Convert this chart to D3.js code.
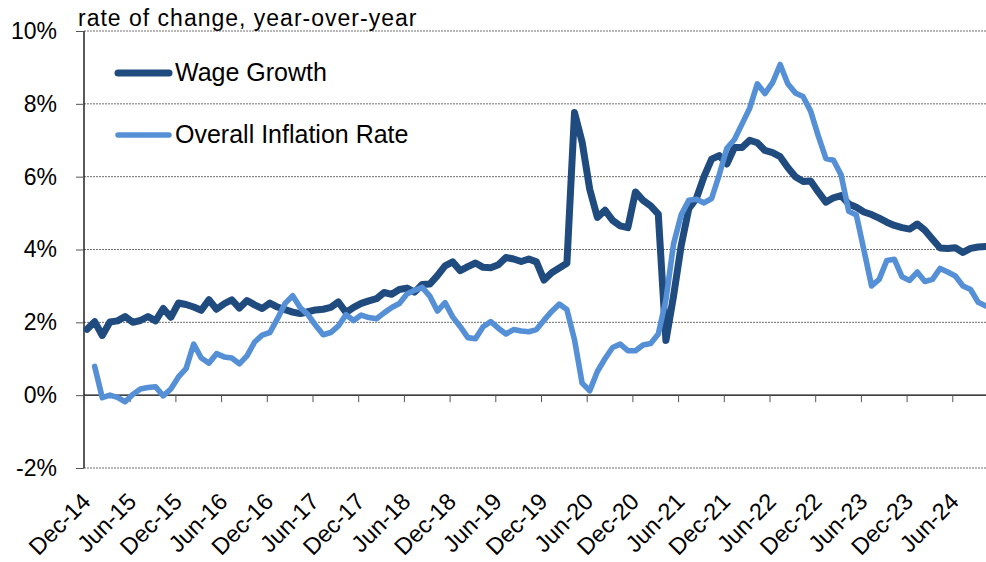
<!DOCTYPE html>
<html>
<head>
<meta charset="utf-8">
<script src="https://cdn.jsdelivr.net/npm/d3@7"></script>
<style>
  body { margin: 0; background: #fff; }
  svg { display: block; }
</style>
</head>
<body>
<svg id="chart" width="986" height="562"></svg>
<script>
// monthly series, Dec-14 .. Oct-24 (rate of change, y/y, %)
var wageStart = 0   // Dec-14
var wageGrowth = [
  1.81, 2.02, 1.64, 2.01, 2.04, 2.16, 2.00, 2.05, 2.16, 2.04, 2.38, 2.14,
  2.53, 2.49, 2.42, 2.33, 2.62, 2.36, 2.51, 2.62, 2.39, 2.60, 2.48, 2.38,
  2.53, 2.42, 2.35, 2.28, 2.24, 2.29, 2.34, 2.36, 2.41, 2.56, 2.27, 2.41,
  2.52, 2.59, 2.65, 2.82, 2.77, 2.90, 2.94, 2.83, 3.04, 3.05, 3.28, 3.55,
  3.66, 3.42, 3.53, 3.63, 3.51, 3.50, 3.58, 3.78, 3.74, 3.67, 3.74, 3.66,
  3.16, 3.36, 3.49, 3.62, 7.76, 6.95, 5.65, 4.88, 5.08, 4.80, 4.65, 4.60,
  5.58, 5.35, 5.20, 4.97, 1.50, 2.72, 4.10, 5.12, 5.40, 6.00, 6.48, 6.58,
  6.35, 6.80, 6.80, 7.00, 6.93, 6.72, 6.66, 6.55, 6.25, 6.00, 5.87, 5.88,
  5.58, 5.30, 5.42, 5.48, 5.25, 5.16, 5.03, 4.96, 4.86, 4.75, 4.66, 4.60,
  4.56, 4.70, 4.53, 4.28, 4.04, 4.03, 4.05, 3.92, 4.03, 4.07, 4.08
]
var inflStart = 1   // Jan-15
var inflation = [
  0.79, -0.07, 0.00, -0.06, -0.18, 0.02, 0.17, 0.21, 0.23, -0.02, 0.17, 0.50,
  0.73, 1.40, 1.02, 0.88, 1.14, 1.05, 1.02, 0.86, 1.08, 1.46, 1.65, 1.72,
  2.10, 2.52, 2.73, 2.40, 2.21, 1.92, 1.66, 1.72, 1.90, 2.21, 2.05, 2.20,
  2.13, 2.10, 2.26, 2.41, 2.52, 2.78, 2.88, 2.96, 2.72, 2.31, 2.54, 2.15,
  1.88, 1.58, 1.55, 1.88, 2.02, 1.84, 1.68, 1.80, 1.76, 1.74, 1.80, 2.06,
  2.30, 2.50, 2.35, 1.52, 0.33, 0.12, 0.65, 1.00, 1.31, 1.40, 1.22, 1.22,
  1.38, 1.42, 1.68, 2.62, 4.15, 4.95, 5.35, 5.38, 5.28, 5.40, 6.05, 6.78,
  7.02, 7.45, 7.88, 8.55, 8.28, 8.58, 9.08, 8.55, 8.30, 8.20, 7.80, 7.12,
  6.50, 6.45, 6.05, 5.05, 4.95, 3.98, 3.00, 3.18, 3.70, 3.73, 3.25, 3.15,
  3.38, 3.12, 3.18, 3.48, 3.38, 3.27, 3.00, 2.90, 2.55, 2.45
]
var xTickLabels = ["Dec-14","Jun-15","Dec-15","Jun-16","Dec-16","Jun-17","Dec-17","Jun-18",
  "Dec-18","Jun-19","Dec-19","Jun-20","Dec-20","Jun-21","Dec-21","Jun-22","Dec-22",
  "Jun-23","Dec-23","Jun-24"]
var yTicks = [-2, 0, 2, 4, 6, 8, 10]
var seriesNames = ["Wage Growth", "Overall Inflation Rate"]
var colors = ["#1f4b7f", "#5590d6"]

var svg = d3.select("#chart")
var W = 986, H = 562
var plotLeft = 84, plotTop = 31, plotBottom = 468, plotRight = W + 2
var ptOffset = 0.4  // points sit a little after the month tick

var x = d3.scaleLinear().domain([0, 114]).range([plotLeft, 952.3])
var y = d3.scaleLinear().domain([-2, 10]).range([plotBottom, plotTop])

// gridlines
svg.append("g").selectAll("line")
  .data(yTicks.filter(function (d) { return d != 0 }))
  .enter().append("line")
  .attr("x1", plotLeft).attr("x2", plotRight)
  .attr("y1", function (d) { return y(d) }).attr("y2", function (d) { return y(d) })
  .style("stroke", "#6e6e6e")
  .style("stroke-width", 1)
  .style("stroke-dasharray", "2,1")

// y axis
var yAxis = svg.append("g")
  .attr("transform", "translate(" + plotLeft + ",0)")
  .call(d3.axisLeft(y).tickValues(yTicks).tickSize(8).tickPadding(19)
    .tickFormat(function (d) { return d + "%" }))
yAxis.select(".domain").attr("d", "M0," + plotTop + "V" + plotBottom).style("stroke", "#000").style("stroke-width", 1.3)
yAxis.selectAll(".tick line").style("stroke", "#555")
yAxis.selectAll("text")
  .style("font-family", "Liberation Sans, Arial, sans-serif")
  .style("font-size", "23px")
  .style("fill", "#000")

// x axis at 0%
var tickIdx = xTickLabels.map(function (d, i) { return i * 6 })
var xAxis = svg.append("g")
  .attr("transform", "translate(0," + y(0) + ")")
  .call(d3.axisBottom(x).tickValues(tickIdx).tickSize(7).tickFormat(""))
xAxis.select(".domain").attr("d", "M" + plotLeft + ",0H" + plotRight).style("stroke", "#000").style("stroke-width", 1.3)
xAxis.selectAll(".tick line").style("stroke", "#555")

// x labels sit below the plot
svg.append("g").selectAll("text")
  .data(xTickLabels)
  .enter().append("text")
  .attr("transform", function (d, i) { return "translate(" + (x(i * 6) + 8) + "," + 503 + ")rotate(-45)" })
  .attr("text-anchor", "end")
  .style("font-family", "Liberation Sans, Arial, sans-serif")
  .style("font-size", "23.5px")
  .text(function (d) { return d })

// lines
var line = d3.line()
  .x(function (d) { return x(d[0] + ptOffset) })
  .y(function (d) { return y(d[1]) })

var inflData = inflation.map(function (v, i) { return [inflStart + i, v] })
var wageData = wageGrowth.map(function (v, i) { return [wageStart + i, v] })

svg.append("path")
  .datum(wageData)
  .attr("d", line)
  .style("fill", "none")
  .style("stroke", colors[0])
  .style("stroke-width", 7)
  .style("stroke-linejoin", "round")
  .style("stroke-linecap", "round")

svg.append("path")
  .datum(inflData)
  .attr("d", line)
  .style("fill", "none")
  .style("stroke", colors[1])
  .style("stroke-width", 5.6)
  .style("stroke-linejoin", "round")
  .style("stroke-linecap", "round")

// axis title
svg.append("text")
  .attr("x", 78).attr("y", 26)
  .style("font-family", "Liberation Sans, Arial, sans-serif")
  .style("font-size", "23px")
  .style("letter-spacing", "1px")
  .text("rate of change, year-over-year")

// legend
var leg = svg.append("g")
seriesNames.forEach(function (name, i) {
  var ly = 73 + i * 62
  leg.append("line")
    .attr("x1", 118).attr("x2", 169).attr("y1", ly).attr("y2", ly)
    .style("stroke", colors[i])
    .style("stroke-width", i == 0 ? 7 : 5.5)
    .style("stroke-linecap", "round")
  leg.append("text")
    .attr("x", 175).attr("y", ly + 8)
    .style("font-family", "Liberation Sans, Arial, sans-serif")
    .style("font-size", "25px")
    .text(name)
})
</script>
</body>
</html>
